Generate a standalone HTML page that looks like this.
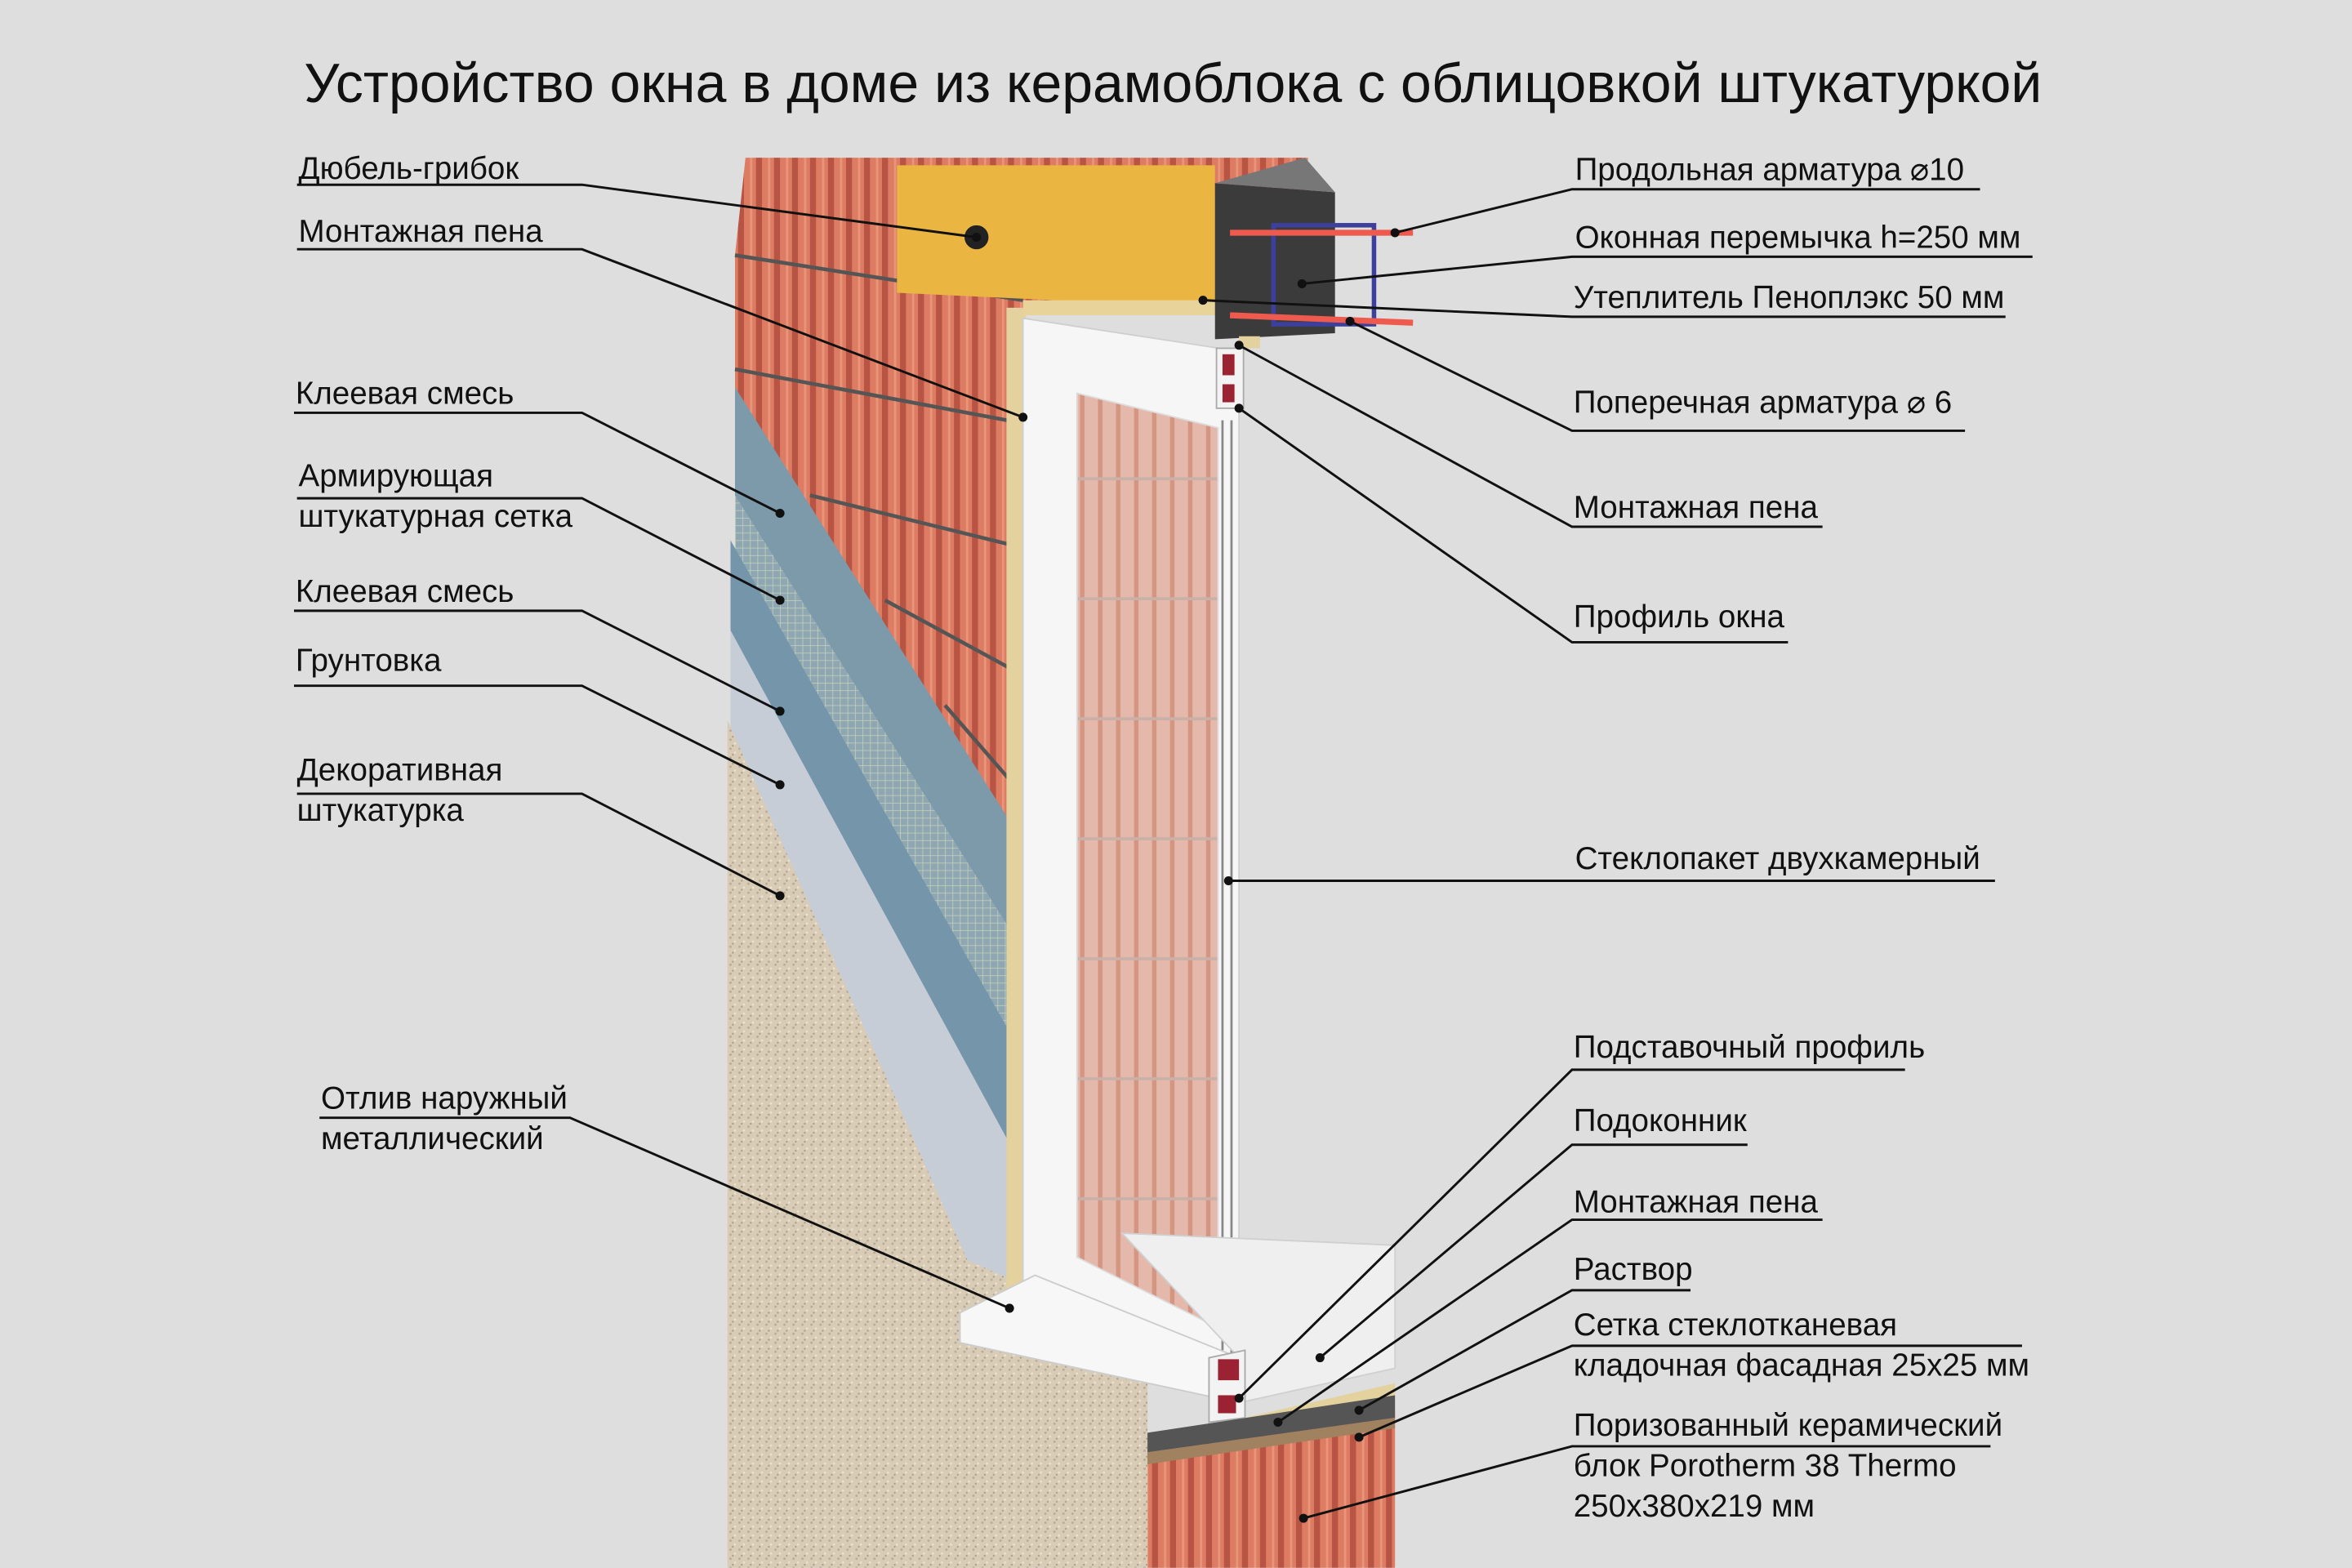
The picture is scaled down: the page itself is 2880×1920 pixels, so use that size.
<!DOCTYPE html>
<html><head><meta charset="utf-8"><style>
html,body{margin:0;padding:0;background:#dedede;}
svg{display:block;}
text{font-family:"Liberation Sans","DejaVu Sans",sans-serif;fill:#111;}
</style></head><body>
<svg width="2880" height="1920" viewBox="0 0 1568 1045" xmlns="http://www.w3.org/2000/svg">
<defs>
<pattern id="brick" width="12" height="40" patternUnits="userSpaceOnUse">
<rect width="12" height="40" fill="#dd7c62"/><rect x="0" width="4" height="40" fill="#b85443"/><rect x="8" width="1.5" height="40" fill="#e9957c"/>
</pattern>
<pattern id="mesh" width="5" height="5" patternUnits="userSpaceOnUse">
<rect width="5" height="5" fill="#8ea7b3"/><path d="M0 0H5M0 0V5" stroke="#c9d3b8" stroke-width="0.8"/>
</pattern>
<pattern id="plaster" width="6" height="6" patternUnits="userSpaceOnUse">
<rect width="6" height="6" fill="#d9ccb7"/><circle cx="1" cy="1" r="0.8" fill="#b9ab95"/><circle cx="4" cy="3.5" r="0.7" fill="#eee3d1"/><circle cx="2.5" cy="5" r="0.6" fill="#a99b86"/>
</pattern>
<pattern id="glass" width="12" height="80" patternUnits="userSpaceOnUse">
<rect width="12" height="80" fill="#e4b9ab"/><rect width="3" height="80" fill="#d49682"/><rect y="78" width="12" height="2" fill="#c9b0a8"/>
</pattern>
</defs>
<rect width="1568" height="1045" fill="#dedede"/>
<text x="782" y="68" font-size="37" text-anchor="middle">Устройство окна в доме из керамоблока с облицовкой штукатуркой</text>

<!-- upper brick -->
<polygon points="497,105 872,105 872,130 810,130 810,205 682,205 682,565 655,565 490,258 490,170" fill="url(#brick)"/>
<g stroke="#555" stroke-width="2.5">
<line x1="490" y1="170" x2="682" y2="200"/><line x1="490" y1="246" x2="682" y2="282"/><line x1="540" y1="330" x2="682" y2="365"/><line x1="590" y1="400" x2="682" y2="450"/><line x1="630" y1="470" x2="682" y2="530"/>
</g>
<!-- layers -->
<polygon points="490,258 680,558 680,860 490,860" fill="#7d9aab"/>
<polygon points="490,330 680,630 680,860 490,860" fill="url(#mesh)"/>
<polygon points="487,360 680,700 680,860 487,860" fill="#7596aa"/>
<polygon points="487,420 680,775 680,860 487,860" fill="#c6cdd7"/>
<polygon points="485,480 645,840 690,860 765,900 765,1045 485,1045" fill="url(#plaster)"/>
<!-- foam left of window -->
<rect x="671" y="205" width="13" height="660" fill="#e4d29e"/>
<!-- window frame -->
<polygon points="682,212 826,234 826,912 682,870" fill="#f6f6f6" stroke="#cfcfcf"/>
<polygon points="718,262 812,285 812,885 718,838" fill="url(#glass)" stroke="#ddd"/>
<line x1="815" y1="280" x2="815" y2="900" stroke="#888" stroke-width="1.5"/>
<line x1="821" y1="280" x2="821" y2="905" stroke="#888" stroke-width="1.5"/>
<rect x="811" y="232" width="18" height="40" fill="#f3f3f3" stroke="#aaa"/>
<rect x="815" y="236" width="8" height="14" fill="#9b2233"/><rect x="815" y="256" width="8" height="12" fill="#9b2233"/>
<!-- lintel -->
<polygon points="598,110 810,110 810,205 598,195" fill="#ebb541"/>
<rect x="682" y="200" width="130" height="10" fill="#e8d39a"/>
<polygon points="810,122 890,128 890,222 810,226" fill="#3b3b3b"/>
<polygon points="810,122 870,105 890,128" fill="#777"/>
<rect x="849" y="150" width="67" height="66" fill="none" stroke="#3d3f9c" stroke-width="3"/>
<line x1="820" y1="155" x2="942" y2="155" stroke="#ee5a4e" stroke-width="4"/>
<line x1="820" y1="210" x2="942" y2="215" stroke="#ee5a4e" stroke-width="4"/>
<rect x="826" y="224" width="14" height="8" fill="#e4d29e"/>
<circle cx="651" cy="158" r="8" fill="#222"/>
<!-- sill -->
<polygon points="640,875 690,850 826,905 826,935 640,895" fill="#f7f7f7" stroke="#ccc"/>
<polygon points="748,822 930,830 930,912 826,935 826,905" fill="#efefef" stroke="#d0d0d0"/>
<polygon points="806,905 830,900 830,945 806,948" fill="#f3f3f3" stroke="#aaa"/>
<rect x="812" y="906" width="14" height="14" fill="#9b2233"/><rect x="812" y="930" width="12" height="12" fill="#9b2233"/>
<polygon points="830,945 930,922 930,938 845,955" fill="#e4d29e"/>
<!-- bottom brick -->
<polygon points="765,965 930,940 930,1045 765,1045" fill="url(#brick)"/>
<polygon points="765,955 930,930 930,945 765,968" fill="#555"/>
<polygon points="765,968 930,945 930,952 765,976" fill="#a08260"/>

<!-- left labels -->
<g font-size="21">
<text x="199" y="119">Дюбель-грибок</text>
<text x="199" y="161">Монтажная пена</text>
<text x="197" y="269">Клеевая смесь</text>
<text x="199" y="324">Армирующая</text>
<text x="199" y="351">штукатурная сетка</text>
<text x="197" y="401">Клеевая смесь</text>
<text x="197" y="447">Грунтовка</text>
<text x="198" y="520">Декоративная</text>
<text x="198" y="547">штукатурка</text>
<text x="214" y="739">Отлив наружный</text>
<text x="214" y="766">металлический</text>
</g>
<g stroke="#111" stroke-width="1.6" fill="none">
<polyline points="198,123 388,123 651,158"/>
<polyline points="198,166 388,166 682,278"/>
<polyline points="196,275 388,275 520,342"/>
<polyline points="198,332 388,332 520,400"/>
<polyline points="196,407 388,407 520,474"/>
<polyline points="196,457 388,457 520,523"/>
<polyline points="198,529 388,529 520,597"/>
<polyline points="213,745 380,745 673,872"/>
</g>
<!-- right labels -->
<g font-size="21">
<text x="1050" y="120">Продольная арматура  ⌀10</text>
<text x="1050" y="165">Оконная перемычка h=250 мм</text>
<text x="1049" y="205">Утеплитель Пеноплэкс 50 мм</text>
<text x="1049" y="275">Поперечная арматура  ⌀ 6</text>
<text x="1049" y="345">Монтажная пена</text>
<text x="1049" y="418">Профиль окна</text>
<text x="1050" y="579">Стеклопакет двухкамерный</text>
<text x="1049" y="705">Подставочный профиль</text>
<text x="1049" y="754">Подоконник</text>
<text x="1049" y="808">Монтажная пена</text>
<text x="1049" y="853">Раствор</text>
<text x="1049" y="890">Сетка стеклотканевая</text>
<text x="1049" y="917">кладочная фасадная 25x25 мм</text>
<text x="1049" y="957">Поризованный керамический</text>
<text x="1049" y="984">блок Porotherm 38 Thermo</text>
<text x="1049" y="1011">250x380x219 мм</text>
</g>
<g stroke="#111" stroke-width="1.6" fill="none">
<polyline points="1320,126 1048,126 930,155"/>
<polyline points="1355,171 1048,171 868,189"/>
<polyline points="1337,211 1048,211 802,200"/>
<polyline points="1310,287 1048,287 900,214"/>
<polyline points="1215,351 1048,351 826,230"/>
<polyline points="1192,428 1048,428 826,272"/>
<polyline points="1330,587 1048,587 819,587"/>
<polyline points="1270,713 1048,713 826,932"/>
<polyline points="1165,763 1048,763 880,905"/>
<polyline points="1215,813 1048,813 852,948"/>
<polyline points="1127,860 1048,860 906,940"/>
<polyline points="1348,897 1048,897 906,958"/>
<polyline points="1327,964 1048,964 869,1012"/>
</g>
<g fill="#111">
<circle cx="651" cy="158" r="3"/><circle cx="682" cy="278" r="3"/><circle cx="520" cy="342" r="3"/><circle cx="520" cy="400" r="3"/><circle cx="520" cy="474" r="3"/><circle cx="520" cy="523" r="3"/><circle cx="520" cy="597" r="3"/><circle cx="673" cy="872" r="3"/>
<circle cx="930" cy="155" r="3"/><circle cx="868" cy="189" r="3"/><circle cx="802" cy="200" r="3"/><circle cx="900" cy="214" r="3"/><circle cx="826" cy="230" r="3"/><circle cx="826" cy="272" r="3"/><circle cx="819" cy="587" r="3"/><circle cx="826" cy="932" r="3"/><circle cx="880" cy="905" r="3"/><circle cx="852" cy="948" r="3"/><circle cx="906" cy="940" r="3"/><circle cx="906" cy="958" r="3"/><circle cx="869" cy="1012" r="3"/>
</g>
</svg>
</body></html>
